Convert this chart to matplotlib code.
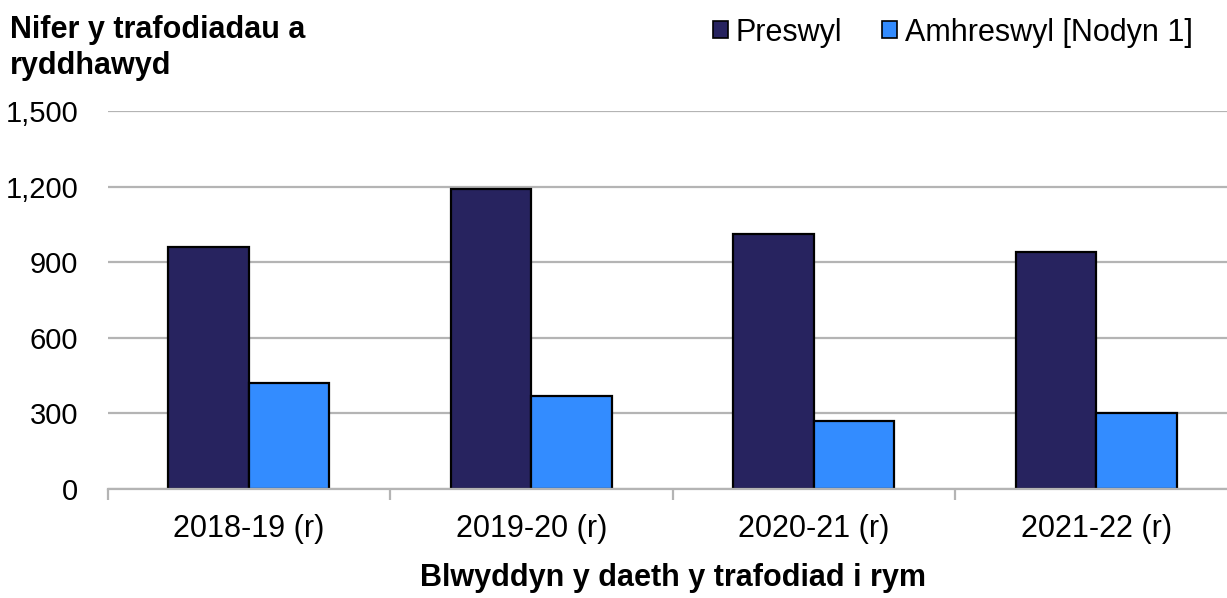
import matplotlib
matplotlib.use("Agg")
from matplotlib import pyplot as plt
from matplotlib.patches import Patch
import numpy as np

plt.rcParams['font.family'] = ['Liberation Sans', 'DejaVu Sans']

years = ['2018-19 (r)', '2019-20 (r)', '2020-21 (r)', '2021-22 (r)']
preswyl = [960, 1190, 1010, 940]
amhreswyl = [420, 370, 270, 300]
series_names = ['Preswyl', 'Amhreswyl [Nodyn 1]']
y_ticks = [0, 300, 600, 900, 1200, 1500]

dark = '#27235f'
light = '#338cff'
grey = '#b4b4b4'

fig = plt.figure(figsize=(12.27, 5.98), dpi=100)
ax = fig.add_axes([107.5 / 1227, 1 - 489 / 598, 1130 / 1227, 378 / 598])

x = np.arange(len(years))
w = 1 / 3.5
ax.bar(x - w / 2, preswyl, width=w, color=dark, edgecolor='black', linewidth=1.6, zorder=3)
ax.bar(x + w / 2, amhreswyl, width=w, color=light, edgecolor='black', linewidth=1.6, zorder=3)

ax.set_xlim(-0.5, len(years) - 0.5)
ax.set_ylim(0, 1500)
ax.set_yticks(y_ticks)
ax.set_yticklabels([f'{v:,}' for v in y_ticks])
ax.yaxis.grid(True, color=grey, linewidth=1.6, zorder=0)
ax.tick_params(axis='y', length=0, pad=21, labelsize=21)

ax.set_xticks(x)
ax.set_xticklabels(years)
ax.set_xticks(np.arange(len(years) + 1) - 0.5, minor=True)
ax.tick_params(axis='x', which='major', length=0, pad=18, labelsize=22)
ax.tick_params(axis='x', which='minor', length=8, width=1.6, color=grey, direction='out')

for s in ['top', 'right', 'left']:
    ax.spines[s].set_visible(False)
ax.spines['bottom'].set_color(grey)
ax.spines['bottom'].set_linewidth(1.6)
ax.spines['bottom'].set_zorder(4)

ax.set_xlabel('Blwyddyn y daeth y trafodiad i rym', fontsize=22, fontweight='bold', labelpad=14)

fig.text(10 / 1227, 1 - 15 / 598, 'Nifer y trafodiadau a\nryddhawyd', fontsize=22,
         fontweight='bold', va='top', ha='left', linespacing=1.25)

handles = [Patch(facecolor=dark, edgecolor='black', linewidth=1.2),
           Patch(facecolor=light, edgecolor='black', linewidth=1.2)]
fig.legend(handles, series_names, loc='upper right', bbox_to_anchor=(1220 / 1227, 1 + 10 / 598),
           ncol=2, frameon=False, fontsize=22, handlelength=0.5, handleheight=0.5,
           handletextpad=0.25, columnspacing=1.3)

fig.savefig('out.png', dpi=100)
